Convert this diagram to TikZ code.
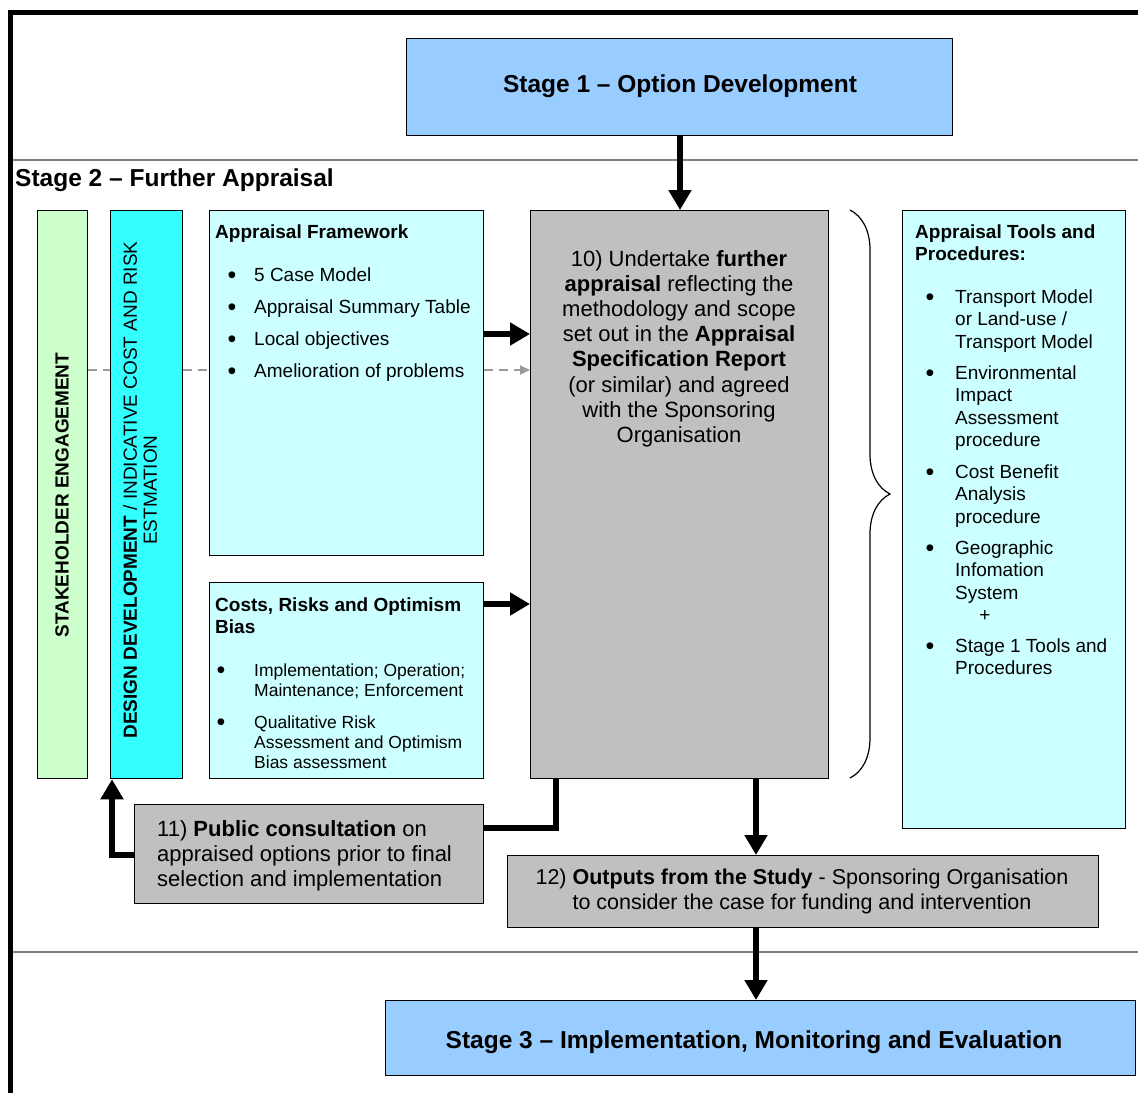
\documentclass[tikz,border=0pt]{standalone}
\usepackage{fontspec}
\setmainfont{Liberation Sans}
\usetikzlibrary{arrows.meta,decorations.pathreplacing}

\definecolor{stageblue}{HTML}{99CCFF}
\definecolor{lightgreen}{HTML}{CCFFCC}
\definecolor{brightcyan}{HTML}{33FFFF}
\definecolor{palecyan}{HTML}{CCFFFF}
\definecolor{boxgray}{HTML}{C0C0C0}
\definecolor{sepgray}{HTML}{808080}
\definecolor{dashgray}{HTML}{9A9A9A}

\begin{document}
\begin{tikzpicture}[x=1pt,y=-1pt,
  box/.style={draw=black, line width=1.3pt, rectangle, inner sep=0pt, anchor=north west},
  ttl/.style={font=\fontsize{24.5}{28}\selectfont\bfseries, inner sep=0pt},
  hd/.style={font=\fontsize{19}{22}\selectfont\bfseries, inner sep=0pt, anchor=base west, align=left},
  bodytxt/.style={font=\fontsize{19}{22.5}\selectfont, inner sep=0pt, anchor=base west, align=left},
  smalltxt/.style={font=\fontsize{17.5}{20}\selectfont, inner sep=0pt, anchor=base west, align=left},
  bul/.style={font=\fontsize{25}{26}\selectfont, inner sep=0pt, anchor=base, yshift=-2.2pt},
  plus/.style={font=\fontsize{19}{22}\selectfont, inner sep=0pt, anchor=base},
  bigtxt/.style={font=\fontsize{22}{25.2}\selectfont, inner sep=0pt},
  arr/.style={line width=6pt, -{Triangle[width=22pt,length=20pt]}},
  thickline/.style={line width=6.5pt},
  dashline/.style={draw=dashgray, line width=2pt, dash pattern=on 9pt off 6pt},
  sepline/.style={draw=sepgray, line width=2pt},
  frame/.style={draw=black, line width=5pt}
]
\path[use as bounding box, fill=white] (0,0) rectangle (1138,1093);

% frame and separators
\coordinate (ftl) at (8,12.5);
\coordinate (ftr) at (1138,12.5);
\coordinate (flt) at (10.5,10);
\coordinate (flb) at (10.5,1093);
\draw[frame] (ftl) -- (ftr);
\draw[frame] (flt) -- (flb);
\coordinate (s1l) at (13,160);
\coordinate (s1r) at (1138,160);
\coordinate (s2l) at (13,952);
\coordinate (s2r) at (1138,952);
\draw[sepline] (s1l) -- (s1r);
\draw[sepline] (s2l) -- (s2r);

% boxes
\node[box, fill=stageblue, minimum width=546pt, minimum height=97pt] (s1) at (406,38) {};
\node[box, fill=lightgreen, minimum width=50pt, minimum height=568pt] (green) at (37,210) {};
\node[box, fill=brightcyan, minimum width=72pt, minimum height=568pt] (cyan) at (110,210) {};
\node[box, fill=palecyan, minimum width=274pt, minimum height=345pt] (af) at (209,210) {};
\node[box, fill=palecyan, minimum width=274pt, minimum height=196pt] (cr) at (209,582) {};
\node[box, fill=boxgray, minimum width=298pt, minimum height=568pt] (g10) at (530,210) {};
\node[box, fill=palecyan, minimum width=223pt, minimum height=618pt] (tools) at (902,210) {};
\node[box, fill=boxgray, minimum width=349pt, minimum height=99pt] (pub) at (134,804) {};
\node[box, fill=boxgray, minimum width=591pt, minimum height=72pt] (out) at (507,855) {};
\node[box, fill=stageblue, minimum width=750pt, minimum height=75pt] (s3) at (385,1000) {};

% titles
\node[ttl, anchor=base] (s1t) at (680,92) {Stage 1 – Option Development};
\node[ttl, anchor=base west] (s2t) at (15,186) {Stage 2 – Further Appraisal};
\node[ttl, anchor=base] (s3t) at (754,1048) {Stage 3 – Implementation, Monitoring and Evaluation};

% vertical bars
\node[font=\fontsize{19}{20}\selectfont\bfseries, inner sep=0pt, rotate=90] (gt) at (62,495) {STAKEHOLDER ENGAGEMENT};
\node[font=\fontsize{19}{20}\selectfont, inner sep=0pt, rotate=90, align=center] (ct) at (140,490)
  {\textbf{DESIGN DEVELOPMENT} / INDICATIVE COST AND RISK\\ESTMATION};

% appraisal framework
\node[hd] (aft) at (215,238) {Appraisal Framework};
\node[bul] (afb1) at (232,281) {\textbullet};
\node[bodytxt] (af1) at (254,281) {5 Case Model};
\node[bul] (afb2) at (232,313) {\textbullet};
\node[bodytxt] (af2) at (254,313) {Appraisal Summary Table};
\node[bul] (afb3) at (232,345) {\textbullet};
\node[bodytxt] (af3) at (254,345) {Local objectives};
\node[bul] (afb4) at (232,377) {\textbullet};
\node[bodytxt] (af4) at (254,377) {Amelioration of problems};

% costs (multi-line nodes: base = last line's baseline)
\node[hd] (crt) at (215,633) {Costs, Risks and Optimism\\Bias};
\node[bul] (crb1) at (221,676) {\textbullet};
\node[smalltxt] (cr1) at (254,696) {Implementation; Operation;\\Maintenance; Enforcement};
\node[bul] (crb2) at (221,728) {\textbullet};
\node[smalltxt] (cr2) at (254,768) {Qualitative Risk\\Assessment and Optimism\\Bias assessment};

% central box
\node[bigtxt, anchor=base, align=center] (g10t) at (679,442.4)
  {10) Undertake \textbf{further}\\\textbf{appraisal} reflecting the\\methodology and scope\\set out in the \textbf{Appraisal}\\\textbf{Specification Report}\\(or similar) and agreed\\with the Sponsoring\\Organisation};

% tools
\node[hd] (tlt) at (915,260) {Appraisal Tools and\\Procedures:};
\node[bul] (tlb1) at (930,303) {\textbullet};
\node[bodytxt] (tl1) at (955,348) {Transport Model\\or Land-use /\\Transport Model};
\node[bul] (tlb2) at (930,379) {\textbullet};
\node[bodytxt] (tl2) at (955,446.5) {Environmental\\Impact\\Assessment\\procedure};
\node[bul] (tlb3) at (930,478) {\textbullet};
\node[bodytxt] (tl3) at (955,523) {Cost Benefit\\Analysis\\procedure};
\node[bul] (tlb4) at (930,554) {\textbullet};
\node[bodytxt] (tl4) at (955,599) {Geographic\\Infomation\\System};
\node[plus] (tlplus) at (985,621) {+};
\node[bul] (tlb5) at (930,652) {\textbullet};
\node[bodytxt] (tl5) at (955,674.5) {Stage 1 Tools and\\Procedures};

% public consultation and outputs
\node[bigtxt, anchor=base west, align=left] (pubt) at (157,886.4)
  {11) \textbf{Public consultation} on\\appraised options prior to final\\selection and implementation};
\node[font=\fontsize{21.5}{25}\selectfont, inner sep=0pt, anchor=base, align=center] (outt) at (802,909)
  {12) \textbf{Outputs from the Study} - Sponsoring Organisation\\to consider the case for funding and intervention};

% brace
\coordinate (bt) at (850,210);
\coordinate (bb) at (850,778);
\draw[line width=1.2pt, decorate, decoration={brace, amplitude=40pt}] (bt) -- (bb);

% dashed line
\draw[dashline] (green.east |- 0,370) -- (cyan.west |- 0,370);
\draw[dashline] (cyan.east |- 0,370) -- (af.west |- 0,370);
\draw[dashline, -{Triangle[width=9pt,length=10pt]}] (af.east |- 0,370) -- (g10.west |- 0,370);

% arrows
\draw[arr] (s1.south -| 680,0) -- (g10.north -| 680,0);
\draw[arr] (af.east |- 0,334) -- (g10.west |- 0,334);
\draw[arr] (cr.east |- 0,604) -- (g10.west |- 0,604);
\draw[thickline] (g10.south -| 556,0) |- (pub.east |- 0,828);
\draw[arr, line width=6.5pt] (pub.west |- 0,855) -| (cyan.south -| 112,0);
\draw[arr] (g10.south -| 756,0) -- (out.north -| 756,0);
\draw[arr] (out.south -| 756,0) -- (s3.north -| 756,0);
\end{tikzpicture}
\end{document}
